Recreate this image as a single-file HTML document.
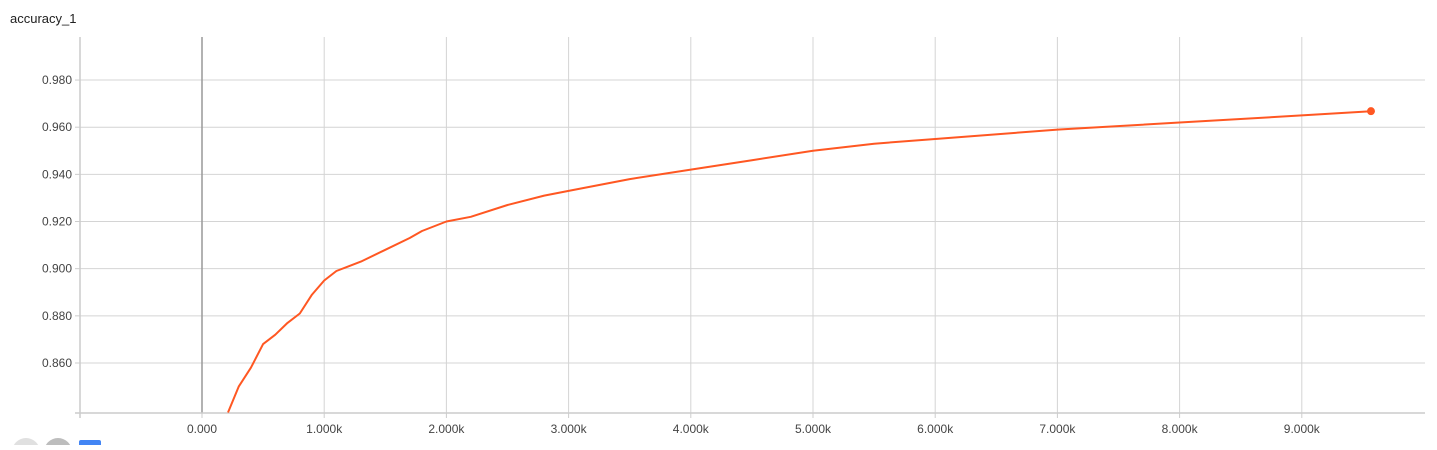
<!DOCTYPE html>
<html><head><meta charset="utf-8"><style>
body{margin:0;background:#fff;font-family:"Liberation Sans",sans-serif;overflow:hidden}
</style></head><body>
<div style="position:relative;width:1437px;height:445px">
<svg id="c" width="1437" height="445">
<text x="10" y="23" font-size="13" fill="#212121">accuracy_1</text>
<circle cx="26" cy="452" r="14" fill="#e0e0e0"/>
<circle cx="58" cy="452" r="14" fill="#bdbdbd"/>
<rect x="79" y="440" width="22" height="10" rx="2" fill="#4285f4"/>
</svg>
</div>
<script>
const xVals=[0.213,0.3,0.4,0.5,0.6,0.7,0.8,0.9,1.0,1.1,1.2,1.3,1.5,1.7,1.8,2.0,2.2,2.5,2.8,3.0,3.5,4.0,4.5,5.0,5.5,6.0,7.0,8.0,9.0,9.566];
const yVals=[0.839,0.850,0.858,0.868,0.872,0.877,0.881,0.889,0.895,0.899,0.901,0.903,0.908,0.913,0.916,0.920,0.922,0.927,0.931,0.933,0.938,0.942,0.946,0.950,0.953,0.955,0.959,0.962,0.965,0.9668];
const xTicks=[0,1,2,3,4,5,6,7,8,9];
const yTicks=[0.86,0.88,0.90,0.92,0.94,0.96,0.98];
const L=80,R=1425,T=37,B=413;
const sx=v=>202+v*122.2;
const sy=v=>363-(v-0.86)/0.01*23.58;
const svg=document.getElementById('c');const NS='http://www.w3.org/2000/svg';
function mk(t,a){const e=document.createElementNS(NS,t);for(const k in a)e.setAttribute(k,a[k]);svg.appendChild(e);return e;}
yTicks.forEach(v=>{const y=sy(v);
const g=mk('line',{x1:L,x2:R,y1:y,y2:y,stroke:'#d4d4d4','stroke-width':1});


const tk=mk('line',{x1:L-5,x2:L,y1:y,y2:y,stroke:'#ccc'});


const t=mk('text',{x:L-8,y:y+4,'font-size':12,fill:'#444','text-anchor':'end'});t.textContent=v.toFixed(3);

});
xTicks.forEach(v=>{const x=sx(v);
const g=mk('line',{x1:x,x2:x,y1:T,y2:B,stroke:v===0?'#999':'#d4d4d4','stroke-width':v===0?1.5:1});


const tk=mk('line',{x1:x,x2:x,y1:B,y2:B+5,stroke:'#ccc'});


const t=mk('text',{x:x,y:B+20,'font-size':12,fill:'#444','text-anchor':'middle'});t.textContent=v===0?'0.000':v.toFixed(3)+'k';

});
const ax=mk('line',{x1:L,x2:L,y1:T,y2:B+5,stroke:'#ccc','stroke-width':1.5});


const bx=mk('line',{x1:L-5,x2:R,y1:B,y2:B,stroke:'#ccc','stroke-width':1.5});


const d=xVals.map((v,i)=>(i?'L':'M')+sx(v).toFixed(1)+','+sy(yVals[i]).toFixed(1)).join('');
const p=mk('path',{d:d,fill:'none',stroke:'#ff5722','stroke-width':2,'stroke-linejoin':'round'});


const n=xVals.length-1;
const c=mk('circle',{cx:sx(xVals[n]),cy:sy(yVals[n]),r:4,fill:'#ff5722'});


</script>
</body></html>
